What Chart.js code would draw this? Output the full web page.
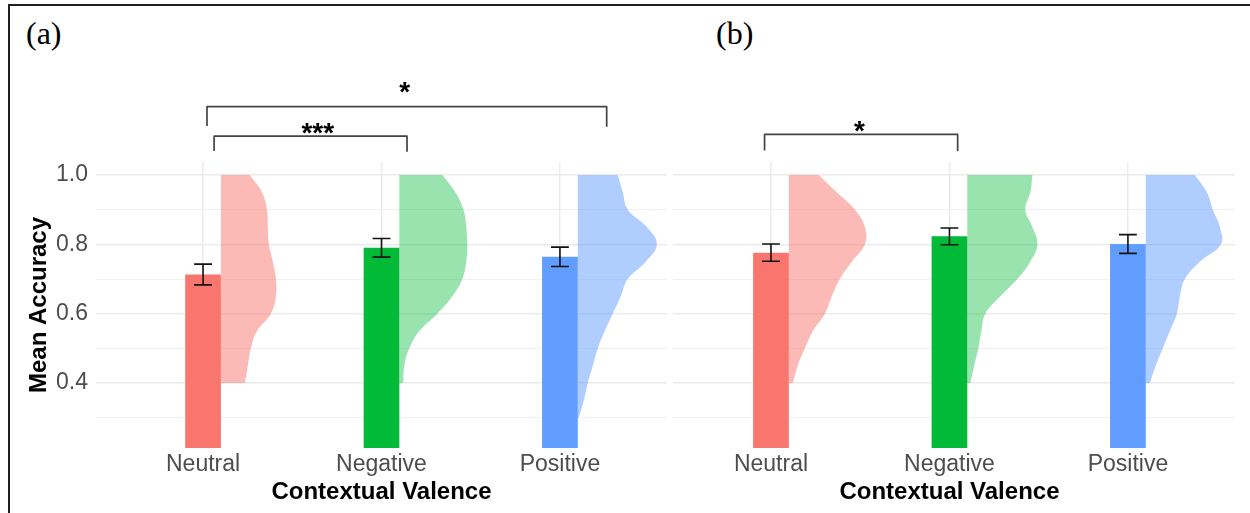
<!DOCTYPE html>
<html>
<head>
<meta charset="utf-8">
<title>Mean Accuracy by Contextual Valence</title>
<script src="https://cdn.jsdelivr.net/npm/chart.js@4.4.1/dist/chart.umd.min.js"></script>
<style>
  html, body { margin: 0; padding: 0; background: #fff; }
  #wrap { position: relative; width: 1250px; height: 513px; overflow: hidden; background: #fff; }
  #frame { position: absolute; left: 8px; top: 4px; width: 1400px; height: 700px;
           border-top: 2px solid #1e1e1e; border-left: 2px solid #1e1e1e; }
  .tag { position: absolute; font-family: "Liberation Serif", "Times New Roman", serif;
         font-size: 32px; line-height: 1; color: #000; }
  canvas { position: absolute; top: 0; }
  #panelA { left: 0; }
  #panelB { left: 673px; }
</style>
</head>
<body>
<div id="wrap">
  <div id="frame"></div>
  <div class="tag" style="left:26px; top:17px;">(a)</div>
  <div class="tag" style="left:716px; top:17px;">(b)</div>
  <canvas id="panelA" width="667" height="513"></canvas>
  <canvas id="panelB" width="562" height="513"></canvas>
</div>
<script>
// ---- data ---------------------------------------------------------------
const categories = ['Neutral', 'Negative', 'Positive'];

// gridline values on the accuracy axis; only these get a text label
const yGridValues = [0.3, 0.4, 0.5, 0.6, 0.7, 0.8, 0.9, 1.0];
const yLabelValues = [0.4, 0.6, 0.8, 1.0];

// panel (a): mean accuracy and standard error
const meanA = [0.713, 0.790, 0.764];
const seA   = [0.030, 0.027, 0.028];

// panel (b): mean accuracy and standard error
const meanB = [0.776, 0.823, 0.801];
const seB   = [0.025, 0.024, 0.027];

// accuracy levels at which the half-violin densities are given
const levels     = [0.40, 0.45, 0.50, 0.55, 0.60, 0.65, 0.70, 0.75, 0.80, 0.85, 0.90, 0.95, 1.00];
const levelsLong = [0.30, 0.35, 0.40, 0.45, 0.50, 0.55, 0.60, 0.65, 0.70, 0.75, 0.80, 0.85, 0.90, 0.95, 1.00];

// half-violin widths (scaled density, in category units)
const densNeutralA  = [0.134, 0.151, 0.168, 0.202, 0.280, 0.308, 0.308, 0.291, 0.269, 0.263, 0.258, 0.230, 0.162];
const densNegativeA = [0.022, 0.028, 0.056, 0.112, 0.213, 0.297, 0.353, 0.375, 0.381, 0.375, 0.359, 0.314, 0.241];
const densPositiveA = [0.006, 0.034, 0.056, 0.084, 0.112, 0.151, 0.196, 0.241, 0.280, 0.381, 0.443, 0.387, 0.280, 0.252, 0.224];

const densNeutralB  = [0.022, 0.050, 0.090, 0.135, 0.202, 0.241, 0.286, 0.353, 0.426, 0.426, 0.370, 0.269, 0.168];
const densNegativeB = [0.017, 0.039, 0.062, 0.079, 0.101, 0.185, 0.280, 0.353, 0.393, 0.365, 0.325, 0.353, 0.365];
const densPositiveB = [0.022, 0.056, 0.095, 0.135, 0.174, 0.191, 0.219, 0.303, 0.421, 0.415, 0.376, 0.342, 0.275];

// pairwise comparisons: bracket ends (x), bracket height and tip (y), label position
const sigA = [
  { x1: 1.022, x2: 3.262, y: 1.197, tipY: 1.141, label: '*',   labelX: 2.13, labelY: 1.261 },
  { x1: 1.062, x2: 2.143, y: 1.112, tipY: 1.069, label: '***', labelX: 1.643, labelY: 1.141 }
];
const sigB = [
  { x1: 0.964, x2: 2.046, y: 1.117, tipY: 1.071, label: '*',   labelX: 1.496, labelY: 1.148 }
];

// ---- styling ------------------------------------------------------------
const barColors    = ['#F8766D', '#00BA38', '#619CFF'];
const violinColors = ['rgba(248,118,109,0.5)', 'rgba(0,186,56,0.4)', 'rgba(97,156,255,0.5)'];
const HALF_BAR = 0.1;   // bars are 0.2 category units wide
const CAP = 0.05;       // error-bar cap half-width
const SANS = '"Liberation Sans", Arial, Helvetica, sans-serif';
const GRID = '#ebebeb';

// outline of one half violin: flat base at the lowest level, density edge, flat top
function violinPoints(center, lv, widths) {
  const x0 = center + HALF_BAR;
  const n = lv.length - 1;
  const pts = [{ x: x0, y: lv[0] }, { x: x0 + widths[0], y: lv[0] }];
  lv.forEach((v, i) => pts.push({ x: x0 + widths[i], y: v }));
  pts.push({ x: x0 + widths[n], y: lv[n] });
  pts.push({ x: x0, y: lv[n] });
  return pts;
}

function makePanel(canvasId, p) {
  const xs = categories.map((_, i) => i + 1);
  const datasets = [];

  // significance brackets (drawn above the plotting area)
  p.sig.forEach(b => datasets.push({
    type: 'line',
    data: [{ x: b.x1, y: b.tipY }, { x: b.x1, y: b.y }, { x: b.x2, y: b.y }, { x: b.x2, y: b.tipY }],
    borderColor: '#444', borderWidth: 1.7, borderJoinStyle: 'round',
    pointRadius: 0, tension: 0, fill: false, clip: false
  }));

  // error bars: top cap, whisker, bottom cap
  const eb = [];
  xs.forEach((x, i) => {
    const hi = p.mean[i] + p.se[i];
    const lo = p.mean[i] - p.se[i];
    eb.push({ x: x - CAP, y: hi }, { x: x + CAP, y: hi }, { x: x, y: null },
            { x: x, y: hi }, { x: x, y: lo }, { x: x, y: null },
            { x: x - CAP, y: lo }, { x: x + CAP, y: lo }, { x: x, y: null });
  });
  datasets.push({
    type: 'line', data: eb, borderColor: '#111', borderWidth: 1.6,
    pointRadius: 0, tension: 0, fill: false, spanGaps: false
  });

  // mean bars
  datasets.push({
    type: 'bar',
    data: xs.map((x, i) => ({ x: x, y: p.mean[i] })),
    backgroundColor: barColors,
    borderWidth: 0,
    barPercentage: 2 * HALF_BAR,
    categoryPercentage: 1,
    clip: 0
  });

  // half violins
  p.violins.forEach((v, i) => datasets.push({
    type: 'line',
    data: violinPoints(xs[i], v.levels, v.widths),
    fill: 'shape',
    backgroundColor: violinColors[i],
    borderColor: 'rgba(0,0,0,0)', borderWidth: 0,
    pointRadius: 0, tension: 0.4
  }));

  const captions = {
    id: 'captions',
    afterDraw(chart) {
      const { ctx, chartArea } = chart;
      const sx = chart.scales.x, sy = chart.scales.y;
      ctx.save();
      ctx.fillStyle = '#000';
      ctx.textAlign = 'center';
      ctx.textBaseline = 'middle';
      ctx.font = 'bold 24px ' + SANS;
      ctx.fillText('Contextual Valence', sx.getPixelForValue(2), chartArea.bottom + 44);
      ctx.textBaseline = 'alphabetic';
      ctx.font = 'bold 28px ' + SANS;
      p.sig.forEach(b => {
        ctx.fillText(b.label, sx.getPixelForValue(b.labelX), sy.getPixelForValue(b.labelY) + 16);
      });
      ctx.restore();
    }
  };

  return new Chart(document.getElementById(canvasId), {
    type: 'bar',
    data: { datasets },
    plugins: [captions],
    options: {
      responsive: false,
      animation: false,
      events: [],
      layout: { padding: { top: 162, left: 0, right: 0, bottom: 0 } },
      plugins: { legend: { display: false }, tooltip: { enabled: false } },
      scales: {
        x: {
          type: 'linear',
          offset: false,
          min: p.xMin, max: 3.6,
          afterBuildTicks: s => { s.ticks = xs.map(v => ({ value: v })); },
          afterFit: s => { s.height = 65; },
          ticks: {
            autoSkip: false, maxRotation: 0, padding: 3,
            color: '#4d4d4d', font: { family: SANS, size: 23 },
            callback: v => categories[Math.round(v) - 1]
          },
          grid: { offset: false, color: GRID, lineWidth: 1.5, drawTicks: false },
          border: { display: false }
        },
        y: {
          type: 'linear',
          min: 0.2125, max: 1.0375,
          afterBuildTicks: s => { s.ticks = yGridValues.map(v => ({ value: v })); },
          afterFit: s => { s.width = p.showY ? 96 : 0; },
          ticks: {
            display: p.showY, autoSkip: false, padding: 8,
            color: '#4d4d4d', font: { family: SANS, size: 23 },
            callback: v => yLabelValues.includes(v) ? v.toFixed(1) : ''
          },
          title: {
            display: p.showY, text: 'Mean Accuracy', color: '#000',
            font: { family: SANS, size: 24, weight: 'bold' },
            padding: { top: 24.6, bottom: 0 }
          },
          grid: {
            drawTicks: false,
            color: c => yLabelValues.includes(c.tick.value) ? GRID : '#f0f0f0',
            lineWidth: c => yLabelValues.includes(c.tick.value) ? 1.5 : 1
          },
          border: { display: false }
        }
      }
    }
  });
}

makePanel('panelA', {
  mean: meanA, se: seA, sig: sigA, showY: true, xMin: 0.4,
  violins: [
    { levels: levels, widths: densNeutralA },
    { levels: levels, widths: densNegativeA },
    { levels: levelsLong, widths: densPositiveA }
  ]
});

makePanel('panelB', {
  mean: meanB, se: seB, sig: sigB, showY: false, xMin: 0.451,
  violins: [
    { levels: levels, widths: densNeutralB },
    { levels: levels, widths: densNegativeB },
    { levels: levels, widths: densPositiveB }
  ]
});
</script>
</body>
</html>
